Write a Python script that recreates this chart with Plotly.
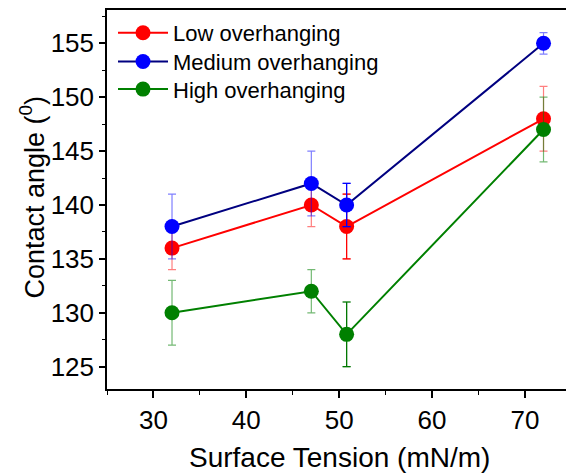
import plotly.graph_objects as go

surface_tension = [32, 47, 50.8, 72]
low_angle = [136, 140, 138, 148]
low_err = [2, 2, 3, 3]
medium_angle = [138, 142, 140, 155]
medium_err = [3, 3, 2, 1]
high_angle = [130, 132, 128, 147]
high_err = [3, 2, 3, 3]

series = [
    ("Low overhanging", low_angle, low_err, "#ff0000", "#ff0000", "rgba(255,0,0,0.5)", "#ff0000", "legend"),
    ("Medium overhanging", medium_angle, medium_err, "#000080", "#0000ff", "rgba(0,0,255,0.5)", "#0000ff", "legend2"),
    ("High overhanging", high_angle, high_err, "#008000", "#008000", "rgba(0,128,0,0.55)", "#007000", "legend3"),
]

FONT = "Arial, Liberation Sans, sans-serif"
L, R, T, B = 107, 0, 10, 85
W, H = 566, 474
PW, PH = W - L - R, H - T - B

fig = go.Figure()

for name, ys, errs, lc, mc, ec_light, ec_solid, lg in series:
    i = 2
    fig.add_trace(go.Scatter(
        x=[surface_tension[i]], y=[ys[i]], mode="markers",
        marker=dict(size=1, color=mc),
        error_y=dict(type="data", array=[errs[i]], visible=True,
                     color=ec_solid, thickness=1.2, width=4),
        showlegend=False, hoverinfo="skip"))
    fig.add_trace(go.Scatter(
        x=surface_tension, y=ys, mode="lines+markers", name=name, legend=lg,
        line=dict(color=lc, width=2),
        marker=dict(size=15, color=mc),
        error_y=dict(type="data", array=errs, visible=True,
                     color=ec_light, thickness=1.2, width=4)))


def leg(top_px):
    return dict(x=(113 - L) / PW, y=((T + PH) - top_px) / PH,
                xanchor="left", yanchor="top",
                font=dict(size=22, family=FONT, color="black"),
                bgcolor="rgba(0,0,0,0)", itemwidth=50)


fig.update_layout(
    width=W, height=H,
    margin=dict(l=L, r=R, t=T, b=B, autoexpand=False),
    paper_bgcolor="white", plot_bgcolor="white",
    font=dict(family=FONT, color="black"),
    showlegend=True,
    legend=leg(12),
    legend2=leg(40.7),
    legend3=leg(68.3),
    annotations=[
        dict(text="Surface Tension (mN/m)", xref="paper", yref="paper",
             x=(339.7 - L) / PW, y=-(457 - (T + PH)) / PH,
             xanchor="center", yanchor="middle", showarrow=False,
             font=dict(size=28, family=FONT, color="black")),
        dict(text="Contact angle (<sup>0</sup>)", xref="paper", yref="paper",
             x=(32 - L) / PW, y=((T + PH) - 197.5) / PH, textangle=-90,
             xanchor="center", yanchor="middle", showarrow=False,
             font=dict(size=27, family=FONT, color="black")),
    ],
)
fig.update_xaxes(
    range=[25, 74.42], tickvals=[30, 40, 50, 60, 70], automargin=False,
    showgrid=False, zeroline=False,
    showline=True, linecolor="black", linewidth=1.5, mirror=True,
    ticks="outside", ticklen=7, tickwidth=1.5, tickcolor="black",
    minor=dict(dtick=5, tick0=25, ticks="outside", ticklen=4, tickwidth=1, tickcolor="black"),
    tickfont=dict(size=26, family=FONT),
)
fig.update_yaxes(
    range=[122.93, 158.09], tickvals=[125, 130, 135, 140, 145, 150, 155], automargin=False,
    showgrid=False, zeroline=False,
    showline=True, linecolor="black", linewidth=1.5,
    ticks="outside", ticklen=6, tickwidth=1.5, tickcolor="black",
    minor=dict(dtick=2.5, tick0=125, ticks="outside", ticklen=3, tickwidth=1, tickcolor="black"),
    tickfont=dict(size=26, family=FONT),
)

fig.write_html(
    "out.html",
    config={"displayModeBar": False},
    post_script="document.body.style.margin='0';document.body.style.overflow='hidden';",
)
